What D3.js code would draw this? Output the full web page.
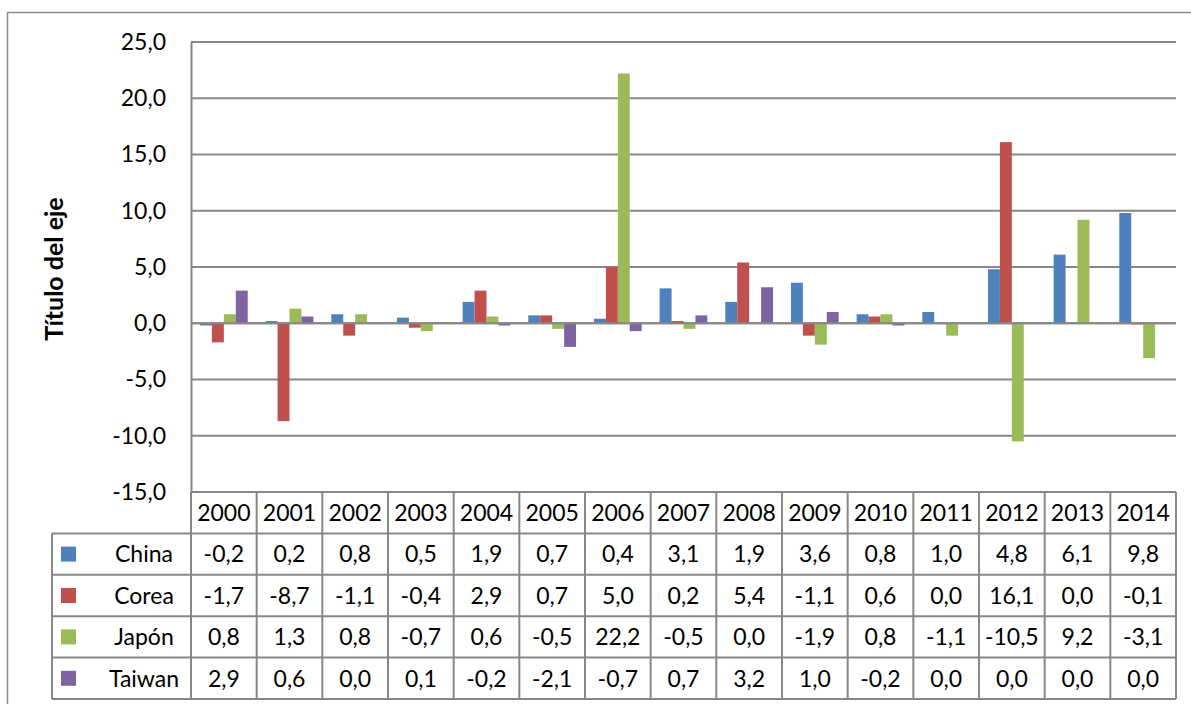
<!DOCTYPE html>
<html>
<head>
<meta charset="utf-8">
<script src="https://cdn.jsdelivr.net/npm/d3@7"></script>
<style>
  body { margin: 0; background: #fff; }
  text { font-family: Lato, "Open Sans", sans-serif; fill: #000; }
</style>
</head>
<body>
<div id="chart"></div>
<script>
const YEARS = ['2000','2001','2002','2003','2004','2005','2006','2007','2008','2009','2010','2011','2012','2013','2014'];
const SERIES = ['China', 'Corea', 'Japón', 'Taiwan'];
const COLORS = ['#4F81BD', '#C0504D', '#9BBB59', '#8064A2'];
const CHINA  = [-0.2, 0.2, 0.8, 0.5, 1.9, 0.7, 0.4, 3.1, 1.9, 3.6, 0.8, 1.0, 4.8, 6.1, 9.8];
const COREA  = [-1.7, -8.7, -1.1, -0.4, 2.9, 0.7, 5.0, 0.2, 5.4, -1.1, 0.6, 0.0, 16.1, 0.0, -0.1];
const JAPON  = [0.8, 1.3, 0.8, -0.7, 0.6, -0.5, 22.2, -0.5, 0.0, -1.9, 0.8, -1.1, -10.5, 9.2, -3.1];
const TAIWAN = [2.9, 0.6, 0.0, 0.1, -0.2, -2.1, -0.7, 0.7, 3.2, 1.0, -0.2, 0.0, 0.0, 0.0, 0.0];
const Y_TICKS = [-15, -10, -5, 0, 5, 10, 15, 20, 25];

const W = 1191, H = 704;
const PLOT = {LEFT: 191, RIGHT: 1176, TOP: 42, BOTTOM: 492};
const ROW_H = 41.4;
const TABLE_LEFT = 52;
const GRID = '#878787';
const FS = 23;

const values = [CHINA, COREA, JAPON, TAIWAN];
const fmt = v => d3.format('.1f')(v).replace('.', ',').replace('−', '-');

const svg = d3.select('#chart').append('svg')
  .attr('width', W)
  .attr('height', H);

// chart border
svg.append('rect')
  .attr('x', 7.5).attr('y', 12.5)
  .attr('width', W).attr('height', H)
  .attr('fill', 'none')
  .attr('stroke', '#8c8c8c')
  .attr('stroke-width', 1.5);

const x0 = d3.scaleBand()
  .domain(YEARS)
  .range([PLOT.LEFT, PLOT.RIGHT]);

const x1 = d3.scaleBand()
  .domain(SERIES)
  .range([0, x0.bandwidth()])
  .paddingOuter(0.75);

const y = d3.scaleLinear()
  .domain([-15, 25])
  .range([PLOT.BOTTOM, PLOT.TOP]);

// gridlines
svg.append('g')
  .selectAll('line')
  .data(Y_TICKS)
  .join('line')
    .attr('x1', PLOT.LEFT).attr('x2', PLOT.RIGHT)
    .attr('y1', d => y(d)).attr('y2', d => y(d))
    .attr('stroke', GRID)
    .attr('stroke-width', 2);

// y axis
const yAxis = svg.append('g')
  .attr('transform', `translate(${PLOT.LEFT},0)`)
  .call(d3.axisLeft(y).tickValues(Y_TICKS).tickFormat(fmt).tickSize(0).tickPadding(25));
yAxis.select('.domain').attr('stroke', GRID).attr('stroke-width', 2);
yAxis.selectAll('text')
  .attr('font-size', FS)
  .attr('font-family', 'Lato, sans-serif');

svg.append('text')
  .attr('transform', `translate(63, 269) rotate(-90)`)
  .attr('text-anchor', 'middle')
  .attr('font-size', 25)
  .attr('font-weight', 'bold')
  .text('Título del eje');

// bars
const groups = svg.append('g')
  .selectAll('g')
  .data(YEARS)
  .join('g')
    .attr('transform', d => `translate(${x0(d)},0)`);

groups.selectAll('rect')
  .data((d, i) => SERIES.map((s, j) => ({s, j, v: values[j][i]})))
  .join('rect')
    .attr('x', d => x1(d.s))
    .attr('width', x1.bandwidth())
    .attr('y', d => y(Math.max(0, d.v)))
    .attr('height', d => Math.abs(y(d.v) - y(0)))
    .attr('fill', d => COLORS[d.j]);

// zero line on top
svg.append('line')
  .attr('x1', PLOT.LEFT).attr('x2', PLOT.RIGHT)
  .attr('y1', y(0)).attr('y2', y(0))
  .attr('stroke', GRID)
  .attr('stroke-width', 2);

// data table
const table = svg.append('g');
const tableBottom = PLOT.BOTTOM + ROW_H * 5;

// horizontal lines
table.selectAll('line.h')
  .data(d3.range(6))
  .join('line')
    .attr('class', 'h')
    .attr('x1', d => d === 0 ? PLOT.LEFT : TABLE_LEFT)
    .attr('x2', PLOT.RIGHT)
    .attr('y1', d => PLOT.BOTTOM + d * ROW_H)
    .attr('y2', d => PLOT.BOTTOM + d * ROW_H)
    .attr('stroke', GRID)
    .attr('stroke-width', 2);

// vertical lines
const vx = YEARS.map(d => x0(d)).concat([PLOT.RIGHT]);
table.selectAll('line.v')
  .data(vx)
  .join('line')
    .attr('class', 'v')
    .attr('x1', d => d).attr('x2', d => d)
    .attr('y1', PLOT.BOTTOM)
    .attr('y2', tableBottom)
    .attr('stroke', GRID)
    .attr('stroke-width', 2);

table.append('line')
  .attr('x1', TABLE_LEFT).attr('x2', TABLE_LEFT)
  .attr('y1', PLOT.BOTTOM + ROW_H).attr('y2', tableBottom)
  .attr('stroke', GRID)
  .attr('stroke-width', 2);

// year header
table.selectAll('text.year')
  .data(YEARS)
  .join('text')
    .attr('class', 'year')
    .attr('x', d => x0(d) + x0.bandwidth() / 2)
    .attr('y', PLOT.BOTTOM + ROW_H / 2)
    .attr('dy', '0.36em')
    .attr('text-anchor', 'middle')
    .attr('font-size', FS)
    .text(d => d);

// series rows
const rows = table.selectAll('g.row')
  .data(SERIES)
  .join('g')
    .attr('class', 'row')
    .attr('transform', (d, i) => `translate(0,${PLOT.BOTTOM + ROW_H * (i + 1)})`);

rows.append('rect')
  .attr('x', 61)
  .attr('y', ROW_H / 2 - 7.5)
  .attr('width', 15)
  .attr('height', 15)
  .attr('fill', (d, i) => COLORS[i]);

rows.append('text')
  .attr('x', 144)
  .attr('y', ROW_H / 2)
  .attr('dy', '0.36em')
  .attr('text-anchor', 'middle')
  .attr('font-size', FS)
  .text(d => d);

rows.each(function(s, j) {
  d3.select(this).selectAll('text.val')
    .data(values[j])
    .join('text')
      .attr('class', 'val')
      .attr('x', (d, i) => x0(YEARS[i]) + x0.bandwidth() / 2)
      .attr('y', ROW_H / 2)
      .attr('dy', '0.36em')
      .attr('text-anchor', 'middle')
      .attr('font-size', FS)
      .text(d => fmt(d));
});
</script>
</body>
</html>
